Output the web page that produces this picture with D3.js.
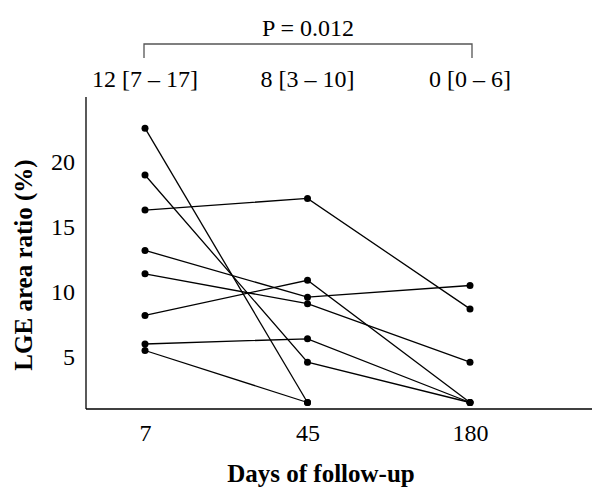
<!DOCTYPE html>
<html>
<head>
<meta charset="utf-8">
<script src="https://cdn.jsdelivr.net/npm/d3@7"></script>
<style>
  body { margin: 0; background: #fff; }
  #chart { width: 600px; height: 489px; }
</style>
</head>
<body>
<div id="chart"></div>
<script>
// follow-up days (categories)
const days = ["7", "45", "180"];
// LGE area ratio (%) per patient, one array per visit (null = no value)
const day7   = [22.6, 19.0, 16.3, 13.2, 11.4, 8.2, 6.0, 5.5];
const day45  = [1.5, 4.6, 17.2, 9.6, 9.1, 10.9, 6.4, 1.5];
const day180 = [null, 1.5, 8.7, 10.5, 4.6, 1.5, 1.5, null];
// median [IQR] shown over each visit
const medianLabels = ["12 [7 \u2013 17]", "8 [3 \u2013 10]", "0 [0 \u2013 6]"];
const pLabel = "P = 0.012";
const yTicks = [5, 10, 15, 20];

const width = 600, height = 489;
const font = "'Liberation Serif', 'Times New Roman', serif";

let svg = d3.select("#chart").append("svg")
    .attr("width", width)
    .attr("height", height);

svg.append("rect")
    .attr("width", width).attr("height", height)
    .attr("fill", "#fff");

let x = d3.scalePoint().domain(days).range([145, 470]);
let y = d3.scaleLinear().domain([1, 25]).range([409, 97]);

let axisLeftX = 86, axisRightX = 592;

// axis lines
svg.append("line")
    .attr("x1", axisLeftX).attr("x2", axisLeftX)
    .attr("y1", y(25)).attr("y2", y(1))
    .attr("stroke", "#000").attr("stroke-width", 1.3);
svg.append("line")
    .attr("x1", axisLeftX).attr("x2", axisRightX)
    .attr("y1", y(1)).attr("y2", y(1))
    .attr("stroke", "#000").attr("stroke-width", 1.3);

// x tick labels
let xAxis = svg.append("g")
    .attr("transform", `translate(0,${y(1)})`)
    .call(d3.axisBottom(x).tickSize(0).tickPadding(15));
xAxis.select(".domain").remove();
xAxis.selectAll("text")
    .attr("font-family", font)
    .attr("font-size", 24)
    .attr("fill", "#000");

// y tick labels
let yAxis = svg.append("g")
    .attr("transform", `translate(${axisLeftX},0)`)
    .call(d3.axisLeft(y).tickValues(yTicks).tickSize(0).tickPadding(11));
yAxis.select(".domain").remove();
yAxis.selectAll("text")
    .attr("font-family", font)
    .attr("font-size", 24)
    .attr("fill", "#000");

// axis titles
svg.append("text")
    .attr("x", 321).attr("y", 482)
    .attr("text-anchor", "middle")
    .attr("font-family", font)
    .attr("font-weight", "bold")
    .attr("font-size", 25)
    .text("Days of follow-up");

svg.append("text")
    .attr("transform", "translate(32,265) rotate(-90)")
    .attr("text-anchor", "middle")
    .attr("font-family", font)
    .attr("font-weight", "bold")
    .attr("font-size", 25)
    .text("LGE area ratio (%)");

// medians above each visit
svg.selectAll(".median")
    .data(days)
    .enter().append("text")
    .attr("class", "median")
    .attr("x", d => x(d))
    .attr("y", 87)
    .attr("text-anchor", "middle")
    .attr("font-family", font)
    .attr("font-size", 24)
    .text((d, i) => medianLabels[i]);

// bracket with p value
let bx1 = x("7") - 1, bx2 = x("180") + 2;
svg.append("path")
    .attr("d", `M${bx1},58 V44 H${bx2} V58`)
    .attr("fill", "none")
    .attr("stroke", "#555")
    .attr("stroke-width", 1.3);

svg.append("text")
    .attr("x", (bx1 + bx2) / 2)
    .attr("y", 36)
    .attr("text-anchor", "middle")
    .attr("font-family", font)
    .attr("font-size", 24)
    .text(pLabel);

// patient lines
let patients = day7.map((v, i) => [v, day45[i], day180[i]]
    .map((val, j) => ({ day: days[j], value: val }))
    .filter(p => p.value !== null));

let line = d3.line().x(d => x(d.day)).y(d => y(d.value));

svg.append("g").selectAll("path")
    .data(patients)
    .enter().append("path")
    .attr("d", d => line(d))
    .attr("fill", "none")
    .attr("stroke", "#000")
    .attr("stroke-width", 1.3);

svg.append("g").selectAll("circle")
    .data(patients.flat())
    .enter().append("circle")
    .attr("cx", d => x(d.day))
    .attr("cy", d => y(d.value))
    .attr("r", 3.5)
    .attr("fill", "#000");
</script>
</body>
</html>
